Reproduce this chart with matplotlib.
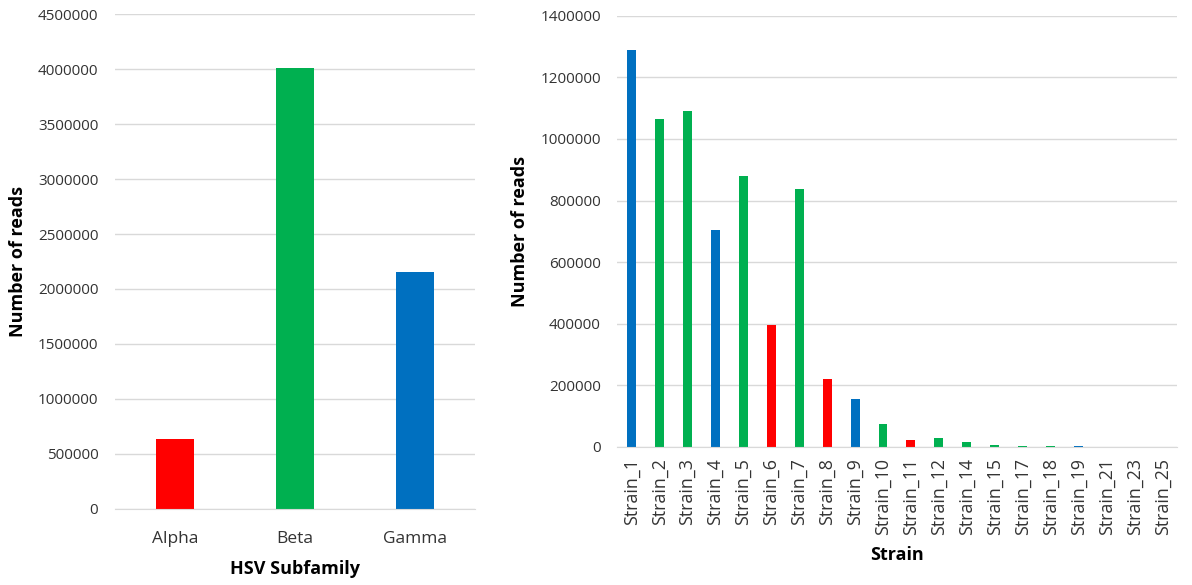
import matplotlib
matplotlib.use("Agg")
import matplotlib.pyplot as plt
from matplotlib.ticker import MultipleLocator, FuncFormatter

plt.rcParams['font.family'] = ['Open Sans', 'DejaVu Sans']

subfamilies = ["Alpha", "Beta", "Gamma"]
subfamily_reads = [637000, 4010000, 2158000]
subfamily_colors = ["#FF0000", "#00B050", "#0070C0"]

strains = ["Strain_1", "Strain_2", "Strain_3", "Strain_4", "Strain_5", "Strain_6",
           "Strain_7", "Strain_8", "Strain_9", "Strain_10", "Strain_11", "Strain_12",
           "Strain_14", "Strain_15", "Strain_17", "Strain_18", "Strain_19", "Strain_21",
           "Strain_23", "Strain_25"]
strain_reads = [1288000, 1065000, 1090000, 705000, 880000, 396000,
                836000, 221000, 156000, 74000, 23000, 29500,
                16000, 6500, 4500, 2500, 1500, 300,
                200, 100]
strain_group = ["Gamma", "Beta", "Beta", "Gamma", "Beta", "Alpha",
                "Beta", "Alpha", "Gamma", "Beta", "Alpha", "Beta",
                "Beta", "Beta", "Beta", "Beta", "Gamma", "Beta",
                "Beta", "Beta"]
group_color = dict(zip(subfamilies, subfamily_colors))

fig = plt.figure(figsize=(11.92, 5.85), dpi=100)
ax1 = fig.add_axes([0.0965, 0.130, 0.302, 0.846])
ax2 = fig.add_axes([0.518, 0.236, 0.469, 0.737])

grid_c = "#D9D9D9"
tick_c = "#333333"

def style(ax, ymax, step):
    ax.set_ylim(0, ymax)
    ax.yaxis.set_major_locator(MultipleLocator(step))
    ax.yaxis.set_major_formatter(FuncFormatter(lambda v, p: f"{int(round(v))}"))
    ax.grid(axis='y', color=grid_c, linewidth=1.0)
    ax.set_axisbelow(True)
    for s in ["top", "right", "left"]:
        ax.spines[s].set_visible(False)
    ax.spines["bottom"].set_color(grid_c)
    ax.tick_params(axis='both', length=0, colors=tick_c, labelsize=11)
    ax.tick_params(axis='y', pad=12)

ax1.bar(range(len(subfamilies)), subfamily_reads, width=0.32, color=subfamily_colors)
ax1.set_xlim(-0.5, len(subfamilies) - 0.5)
ax1.set_xticks(range(len(subfamilies)))
ax1.set_xticklabels(subfamilies)
style(ax1, 4500000, 500000)
ax1.tick_params(axis='x', pad=16, labelsize=12.5)
ax1.set_xlabel("HSV Subfamily", fontsize=13, fontweight='bold', labelpad=9)
ax1.set_ylabel("Number of reads", fontsize=13, fontweight='bold', labelpad=8)

ax2.bar(range(len(strains)), strain_reads, width=0.32,
        color=[group_color[g] for g in strain_group])
ax2.set_xlim(-0.5, len(strains) - 0.5)
ax2.set_xticks(range(len(strains)))
ax2.set_xticklabels(strains, rotation=90)
style(ax2, 1400000, 200000)
ax2.tick_params(axis='x', pad=8, labelsize=12.8)
ax2.set_xlabel("Strain", fontsize=13, fontweight='bold', labelpad=8)
ax2.set_ylabel("Number of reads", fontsize=13, fontweight='bold', labelpad=8)

fig.savefig("out.png", dpi=100)
